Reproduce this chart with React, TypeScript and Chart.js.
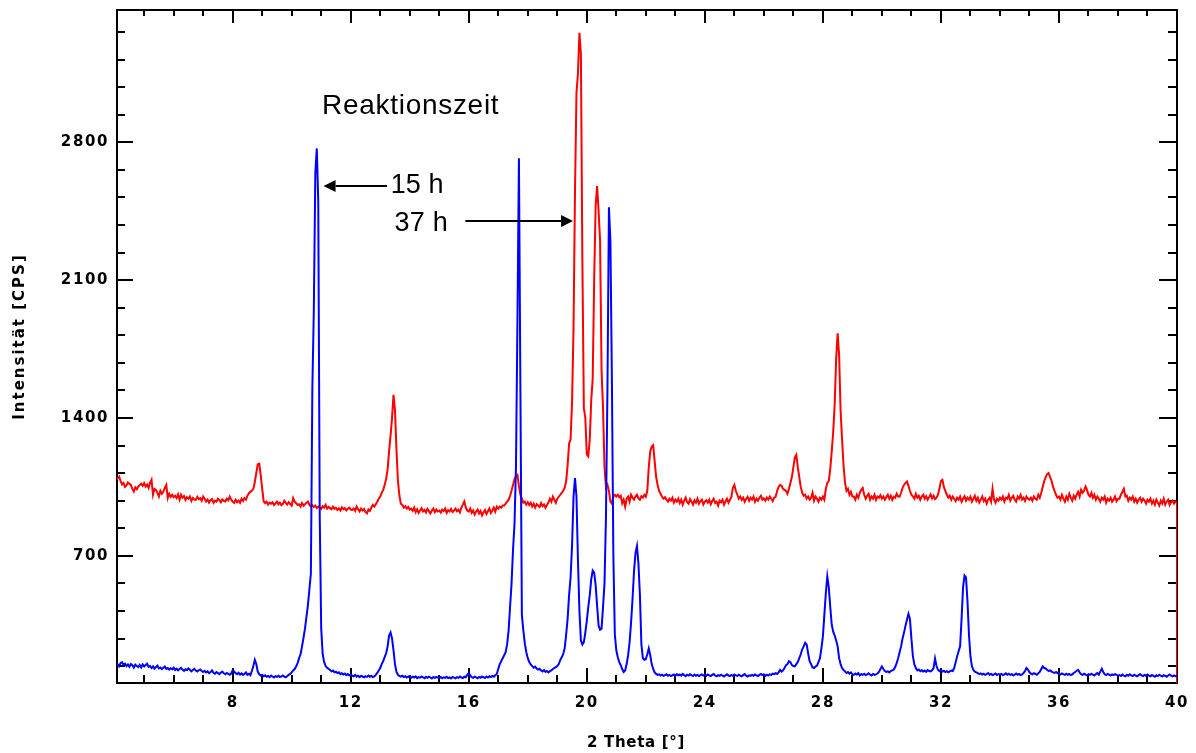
import React, { useEffect, useRef } from "react";
import { Chart, registerables } from "chart.js";

Chart.register(...registerables);

// 2θ sampling: 0.05° steps starting at 4.05°, each row below spans (n°, n+1°]
const THETA_START = 4.05;
const THETA_STEP = 0.05;

// Reaktionszeit 15 h — intensity [CPS]
const counts15h: number[] = [
  /* 4 */ 142, 150, 138, 155, 160, 146, 152, 140, 148, 136, 150, 144, 132, 147, 140, 135, 146, 133, 148, 138,
  /* 5 */ 145, 152, 136, 140, 130, 138, 127, 135, 142, 128, 133, 125, 131, 138, 126, 130, 122, 129, 124, 132,
  /* 6 */ 120, 127, 118, 125, 131, 122, 116, 124, 119, 128, 121, 113, 120, 126, 117, 112, 119, 123, 115, 110,
  /* 7 */ 116, 108, 113, 104, 110, 118, 106, 101, 109, 104, 99, 107, 112, 103, 98, 105, 100, 96, 102, 118,
  /* 8 */ 112, 104, 99, 106, 97, 103, 95, 100, 108, 96, 101, 94, 115, 140, 172, 150, 112, 98, 92, 95,
  /* 9 */ 88, 93, 86, 90, 84, 92, 87, 82, 89, 85, 91, 84, 88, 92, 86, 83, 90, 95, 100, 108,
  /* 10 */ 118, 125, 138, 155, 180, 200, 240, 283, 330, 390, 450, 530, 610, 1550, 1950, 2640, 2769, 2500, 900, 330,
  /* 11 */ 200, 160, 140, 131, 126, 120, 113, 117, 108, 111, 104, 108, 99, 104, 97, 102, 94, 99, 92, 97,
  /* 12 */ 92, 88, 95, 86, 91, 84, 90, 87, 83, 89, 85, 92, 86, 90, 84, 88, 95, 105, 118, 130,
  /* 13 */ 150, 165, 185, 205, 240, 295, 311, 280, 220, 150, 110, 96, 90, 86, 91, 84, 88, 82, 87, 83,
  /* 14 */ 80, 86, 82, 88, 79, 84, 81, 87, 83, 78, 85, 80, 86, 82, 77, 84, 80, 85, 81, 79,
  /* 15 */ 84, 78, 83, 80, 86, 79, 82, 77, 85, 81, 78, 84, 80, 87, 82, 79, 86, 83, 95, 105,
  /* 16 */ 92, 84, 80, 86, 82, 78, 85, 81, 87, 83, 80, 86, 82, 88, 84, 90, 86, 93, 100, 125,
  /* 17 */ 150, 165, 180, 195, 210, 250, 320, 440, 560, 730, 860, 1150, 1900, 2719, 1550, 400, 320, 255, 210, 180,
  /* 18 */ 160, 148, 140, 132, 137, 128, 122, 126, 118, 113, 120, 110, 115, 108, 114, 118, 125, 130, 135, 140,
  /* 19 */ 150, 170, 185, 200, 230, 300, 380, 500, 590, 750, 1000, 1095, 1000, 680, 420, 270, 250, 262, 310, 370,
  /* 20 */ 440, 500, 580, 625, 615, 550, 445, 345, 325, 330, 440, 560, 900, 1550, 2470, 2300, 1600, 700, 300, 220,
  /* 21 */ 185, 160, 145, 125, 110, 118, 150, 195, 260, 360, 480, 620, 715, 750, 660, 500, 250, 180, 172, 175,
  /* 22 */ 200, 230, 195, 150, 125, 108, 100, 95, 98, 92, 96, 90, 94, 98, 91, 95, 89, 93, 97, 90,
  /* 23 */ 99, 93, 97, 91, 100, 94, 89, 96, 92, 98, 93, 90, 97, 91, 95, 89, 94, 98, 92, 96,
  /* 24 */ 91, 97, 93, 89, 95, 100, 92, 88, 94, 90, 96, 91, 87, 93, 98, 92, 89, 95, 91, 97,
  /* 25 */ 93, 90, 96, 92, 88, 94, 99, 91, 87, 93, 90, 95, 91, 97, 93, 89, 95, 100, 94, 98,
  /* 26 */ 90, 96, 92, 98, 95, 102, 99, 104, 100, 108, 120, 112, 118, 130, 145, 150, 165, 160, 145, 140,
  /* 27 */ 138, 150, 160, 180, 200, 225, 240, 258, 250, 205, 165, 150, 133, 130, 138, 142, 160, 180, 230, 290,
  /* 28 */ 400, 510, 595, 540, 440, 350, 315, 295, 270, 240, 180, 150, 130, 120, 113, 105, 110, 102, 108, 98,
  /* 29 */ 95, 102, 97, 104, 92, 99, 95, 101, 94, 98, 103, 96, 92, 100, 95, 98, 102, 110, 125, 138,
  /* 30 */ 125, 115, 110, 113, 108, 115, 118, 121, 135, 155, 180, 210, 240, 280, 310, 345, 375, 405, 380, 280,
  /* 31 */ 190, 148, 130, 118, 122, 114, 119, 112, 117, 111, 120, 115, 113, 118, 130, 178, 140, 122, 115, 118,
  /* 32 */ 112, 116, 110, 114, 108, 113, 117, 115, 130, 160, 190, 215, 240, 380, 540, 600, 590, 470, 300, 190,
  /* 33 */ 140, 120, 112, 108, 104, 99, 103, 97, 101, 95, 99, 104, 96, 100, 94, 98, 102, 95, 99, 96,
  /* 34 */ 100, 94, 98, 103, 96, 101, 95, 99, 93, 97, 102, 96, 100, 94, 98, 105, 115, 130, 122, 108,
  /* 35 */ 102, 98, 104, 100, 96, 103, 110, 125, 138, 130, 128, 120, 115, 118, 112, 108, 105, 110, 104, 100,
  /* 36 */ 97, 103, 99, 95, 101, 96, 100, 94, 98, 105, 110, 116, 121, 108, 99, 95, 101, 97, 93, 99,
  /* 37 */ 95, 101, 96, 92, 99, 104, 96, 112, 126, 110, 98, 94, 100, 96, 92, 98, 94, 99, 95, 91,
  /* 38 */ 94, 90, 97, 92, 88, 95, 91, 98, 93, 89, 96, 92, 88, 94, 99, 93, 89, 95, 91, 97,
  /* 39 */ 92, 88, 95, 90, 86, 93, 89, 96, 91, 87, 94, 90, 86, 92, 97, 91, 88, 93, 89, 90,
];

// Reaktionszeit 37 h — intensity [CPS]
const counts37h: number[] = [
  /* 4 */ 1086, 1095, 1102, 1080, 1062, 1070, 1050, 1058, 1072, 1066, 1060, 1040, 1026, 1048, 1038, 1052, 1060, 1066, 1055, 1069,
  /* 5 */ 1052, 1062, 1045, 1070, 1086, 1010, 1040, 1035, 1020, 1001, 1030, 1015, 1026, 1045, 1060, 993, 1015, 1000, 1010, 998,
  /* 6 */ 1005, 993, 1012, 985, 1010, 995, 1003, 984, 998, 990, 1001, 978, 994, 986, 984, 1000, 988, 993, 979, 1001,
  /* 7 */ 990, 976, 985, 970, 982, 988, 969, 980, 975, 990, 984, 972, 986, 979, 976, 990, 982, 1001, 985, 975,
  /* 8 */ 969, 985, 972, 980, 969, 990, 978, 993, 985, 1005, 1018, 1025, 1030, 1040, 1075, 1120, 1165, 1168, 1110, 1040,
  /* 9 */ 976, 968, 975, 960, 970, 965, 972, 958, 966, 975, 962, 970, 957, 964, 980, 969, 960, 972, 963, 955,
  /* 10 */ 993, 975, 967, 958, 962, 950, 968, 955, 962, 970, 976, 960, 950, 957, 948, 955, 942, 950, 945, 938,
  /* 11 */ 952, 945, 959, 940, 948, 942, 936, 950, 939, 944, 933, 941, 930, 946, 937, 942, 931, 939, 945, 935,
  /* 12 */ 933, 940, 928, 950, 936, 925, 940, 930, 938, 922, 916, 935, 928, 945, 959, 950, 962, 975, 990, 1001,
  /* 13 */ 1020, 1035, 1060, 1090, 1140, 1230, 1310, 1400, 1517, 1440, 1240, 1080, 1005, 965, 958, 945, 952, 940, 948, 935,
  /* 14 */ 940, 928, 945, 922, 936, 918, 930, 942, 925, 933, 920, 938, 927, 915, 930, 940, 922, 935, 925, 930,
  /* 15 */ 920, 935, 928, 940, 918, 932, 925, 938, 922, 930, 940, 926, 934, 920, 945, 960, 976, 945, 930, 925,
  /* 16 */ 940, 918, 930, 910, 925, 935, 915, 928, 905, 920, 932, 912, 926, 940, 918, 930, 945, 925, 950, 940,
  /* 17 */ 950, 945, 955, 955, 965, 975, 985, 1005, 1030, 1060, 1090, 1105, 1111, 1055, 1010, 990, 970, 975, 960, 972,
  /* 18 */ 958, 970, 950, 965, 945, 962, 955, 948, 968, 952, 960, 944, 958, 970, 990, 975, 1001, 985, 969, 990,
  /* 19 */ 1000, 1010, 1020, 1030, 1045, 1080, 1160, 1270, 1290, 1480, 1850, 2550, 3050, 3150, 3356, 3250, 2200, 1450, 1400, 1215,
  /* 20 */ 1205, 1290, 1490, 1600, 2100, 2480, 2578, 2450, 2300, 1640, 1450, 1150, 1050, 1062, 1030, 975, 965, 1000, 1010, 1001,
  /* 21 */ 1010, 998, 1005, 967, 985, 950, 990, 1001, 975, 1010, 995, 985, 1001, 1010, 992, 985, 1003, 996, 1010, 1000,
  /* 22 */ 1030, 1150, 1230, 1255, 1262, 1180, 1100, 1060, 1030, 1015, 1000, 990, 998, 985, 975, 990, 980, 995, 970, 985,
  /* 23 */ 975, 990, 968, 985, 960, 980, 995, 972, 965, 988, 975, 960, 982, 970, 990, 965, 978, 985, 960, 975,
  /* 24 */ 982, 970, 985, 962, 978, 990, 968, 975, 955, 980, 972, 985, 960, 976, 990, 970, 985, 1000, 1045, 1060,
  /* 25 */ 1030, 1010, 990, 1001, 984, 995, 975, 990, 1000, 980, 995, 985, 1001, 975, 990, 980, 995, 1005, 985, 992,
  /* 26 */ 980, 995, 985, 1001, 990, 978, 995, 1000, 1030, 1050, 1060, 1055, 1040, 1035, 1030, 1015, 1040, 1070, 1100, 1150,
  /* 27 */ 1200, 1213, 1150, 1100, 1050, 1020, 1005, 1010, 990, 1001, 985, 995, 1020, 980, 1001, 990, 975, 995, 985, 1001,
  /* 28 */ 985, 1040, 1070, 1080, 1140, 1230, 1330, 1470, 1700, 1830, 1720, 1440, 1290, 1160, 1070, 1030, 1040, 1010, 1025, 1001,
  /* 29 */ 1001, 985, 1010, 995, 1020, 1035, 1044, 1010, 990, 1005, 1015, 985, 1001, 990, 1010, 984, 1001, 995, 1008, 990,
  /* 30 */ 1001, 985, 998, 1010, 990, 1005, 984, 1000, 995, 1015, 1001, 1000, 1020, 1045, 1060, 1070, 1077, 1055, 1030, 1010,
  /* 31 */ 1001, 990, 1015, 995, 1005, 984, 1001, 1010, 990, 1003, 985, 998, 1012, 992, 1005, 988, 995, 1010, 1040, 1080,
  /* 32 */ 1086, 1050, 1030, 1010, 995, 1005, 984, 1001, 990, 978, 995, 985, 1001, 975, 990, 1003, 980, 995, 985, 1000,
  /* 33 */ 975, 990, 1005, 980, 995, 970, 985, 1001, 978, 990, 965, 985, 995, 975, 1040, 985, 970, 990, 980, 995,
  /* 34 */ 985, 1001, 975, 995, 990, 1010, 980, 995, 1005, 985, 975, 1001, 990, 1010, 985, 995, 978, 1001, 990, 985,
  /* 35 */ 995, 980, 1001, 990, 985, 1010, 995, 1020, 1050, 1080, 1100, 1115, 1120, 1100, 1080, 1050, 1030, 1010, 995, 1001,
  /* 36 */ 985, 1010, 990, 975, 1001, 985, 1015, 995, 980, 1005, 990, 1010, 1025, 1001, 1035, 1020, 1030, 1052, 1035, 1010,
  /* 37 */ 1001, 1020, 995, 1010, 985, 1001, 990, 975, 995, 985, 1001, 970, 990, 980, 995, 975, 985, 1001, 978, 990,
  /* 38 */ 990, 1010, 1025, 1040, 1001, 1005, 980, 995, 985, 1001, 975, 990, 970, 985, 995, 975, 990, 980, 965, 985,
  /* 39 */ 975, 990, 965, 980, 960, 985, 970, 955, 980, 965, 990, 960, 975, 985, 958, 972, 980, 965, 975, 970,
];
// the 37 h scan closes with a reading of zero at 40°
const counts37hEnd = 0;

// labelled (major) ticks
const xLabelValues = [8, 12, 16, 20, 24, 28, 32, 36, 40];
const yLabelValues = [700, 1400, 2100, 2800];
// every tick mark on the frame: 1° steps on 2θ, 140 CPS steps on intensity
const xTickValues = Array.from({ length: 36 }, (_, i) => 5 + i);
const yTickValues = Array.from({ length: 24 }, (_, i) => 140 * (i + 1));

const X_MIN = 4.08;
const X_MAX = 40;
const Y_MIN = 54;
const Y_MAX = 3472;

// annotation in data coordinates (2θ, CPS)
const notes = [
  { text: "Reaktionszeit", x: 11.03, y: 2944, size: 28, spacing: 0.7 },
  { text: "15 h", x: 13.36, y: 2541, size: 27, spacing: 0 },
  { text: "37 h", x: 13.48, y: 2351, size: 27, spacing: 0.3 },
];
const arrows = [
  { fromX: 13.23, toX: 11.08, y: 2578 },
  { fromX: 15.885, toX: 19.535, y: 2402 },
];

const AXIS_FONT = '"DejaVu Sans"';
const NOTE_FONT = '"Liberation Sans", Arial, sans-serif';
const INK = "#000000";

const toPoints = (counts: number[]) =>
  counts.map((c, i) => ({ x: +(THETA_START + i * THETA_STEP).toFixed(2), y: c }));

// widen axis lettering while the scales paint, then reset for the data
const axisLetterSpacing = {
  id: "axisLetterSpacing",
  beforeDraw(chart: any) {
    chart.ctx.letterSpacing = "1.6px";
  },
  beforeDatasetsDraw(chart: any) {
    chart.ctx.letterSpacing = "0px";
  },
};

// closed frame with inward tick marks on all four sides
const frameTicks = {
  id: "frameTicks",
  beforeDatasetsDraw(chart: any) {
    const { ctx, chartArea: a, scales } = chart;
    ctx.save();
    ctx.strokeStyle = INK;
    ctx.lineWidth = 2;
    ctx.strokeRect(a.left, a.top, a.right - a.left, a.bottom - a.top);
    ctx.beginPath();
    for (const v of xTickValues) {
      const px = Math.round(scales.x.getPixelForValue(v));
      const major = xLabelValues.includes(v);
      ctx.moveTo(px, a.bottom);
      ctx.lineTo(px, a.bottom - (major ? 15 : 8));
      ctx.moveTo(px, a.top);
      ctx.lineTo(px, a.top + (major ? 13 : 6));
    }
    for (const v of yTickValues) {
      const py = Math.round(scales.y.getPixelForValue(v));
      const major = yLabelValues.includes(v);
      ctx.moveTo(a.left, py);
      ctx.lineTo(a.left + (major ? 16 : 8), py);
      ctx.moveTo(a.right, py);
      ctx.lineTo(a.right - (major ? 18 : 9), py);
    }
    ctx.stroke();
    ctx.restore();
  },
};

// axis titles, Reaktionszeit labels and arrows
const textLayer = {
  id: "textLayer",
  afterDraw(chart: any) {
    const { ctx, chartArea: a, scales } = chart;
    ctx.save();
    ctx.fillStyle = INK;
    ctx.strokeStyle = INK;

    ctx.save();
    ctx.letterSpacing = "2px";
    ctx.font = `bold 15px ${AXIS_FONT}`;
    ctx.textAlign = "center";
    ctx.textBaseline = "middle";
    ctx.translate(a.left - 97, (a.top + a.bottom) / 2 - 10);
    ctx.rotate(-Math.PI / 2);
    ctx.fillText("Intensität [CPS]", 0, 0);
    ctx.restore();

    ctx.save();
    ctx.letterSpacing = "0.7px";
    ctx.font = `bold 15px ${AXIS_FONT}`;
    ctx.textAlign = "center";
    ctx.textBaseline = "alphabetic";
    ctx.fillText("2 Theta [°]", (a.left + a.right) / 2 - 11, a.bottom + 64);
    ctx.restore();

    ctx.textAlign = "left";
    ctx.textBaseline = "alphabetic";
    for (const n of notes) {
      ctx.letterSpacing = `${n.spacing}px`;
      ctx.font = `${n.size}px ${NOTE_FONT}`;
      ctx.fillText(n.text, scales.x.getPixelForValue(n.x), scales.y.getPixelForValue(n.y));
    }
    ctx.letterSpacing = "0px";

    ctx.lineWidth = 2;
    for (const ar of arrows) {
      const x0 = scales.x.getPixelForValue(ar.fromX);
      const x1 = scales.x.getPixelForValue(ar.toX);
      const y = Math.round(scales.y.getPixelForValue(ar.y));
      const dir = x1 > x0 ? 1 : -1;
      const head = 12;
      ctx.beginPath();
      ctx.moveTo(x0, y);
      ctx.lineTo(x1 - dir * head, y);
      ctx.stroke();
      ctx.beginPath();
      ctx.moveTo(x1, y);
      ctx.lineTo(x1 - dir * head, y - 6);
      ctx.lineTo(x1 - dir * head, y + 6);
      ctx.closePath();
      ctx.fill();
    }
    ctx.restore();
  },
};

// keep the plot frame fixed: no extra room reserved for edge tick labels
const noEdgePadding = (s: any) => {
  s.paddingTop = 0;
  s.paddingBottom = 0;
  s.paddingLeft = 0;
  s.paddingRight = 0;
};

export default function App() {
  const canvasRef = useRef<HTMLCanvasElement | null>(null);

  useEffect(() => {
    const canvas = canvasRef.current;
    if (!canvas) return;

    const data15h = toPoints(counts15h);
    const data37h = [...toPoints(counts37h), { x: 40, y: counts37hEnd }];

    const tickFont = { family: AXIS_FONT, size: 15, weight: "bold" as const };

    const chart = new Chart(canvas, {
      type: "line",
      data: {
        datasets: [
          {
            label: "15 h",
            data: data15h,
            borderColor: "#0000ff",
            borderWidth: 2,
            pointRadius: 0,
            fill: false,
            tension: 0,
          },
          {
            label: "37 h",
            data: data37h,
            borderColor: "#ff0000",
            borderWidth: 2,
            pointRadius: 0,
            fill: false,
            tension: 0,
          },
        ],
      },
      options: {
        animation: false,
        responsive: false,
        devicePixelRatio: 1,
        events: [],
        layout: { padding: { top: 10, right: 19, bottom: 0, left: 0 } },
        plugins: {
          legend: { display: false },
          tooltip: { enabled: false },
        },
        scales: {
          x: {
            type: "linear",
            min: X_MIN,
            max: X_MAX,
            afterBuildTicks: (s: any) => {
              s.ticks = xTickValues.map((value) => ({ value }));
            },
            afterFit: (s: any) => {
              s.height = 70;
              noEdgePadding(s);
            },
            grid: { display: false, drawTicks: false },
            border: { display: false },
            ticks: {
              autoSkip: false,
              maxRotation: 0,
              minRotation: 0,
              padding: 11,
              color: INK,
              font: tickFont,
              callback: (v: any) => (xLabelValues.includes(Number(v)) ? String(v) : ""),
            },
          },
          y: {
            type: "linear",
            min: Y_MIN,
            max: Y_MAX,
            afterBuildTicks: (s: any) => {
              s.ticks = yTickValues.map((value) => ({ value }));
            },
            afterFit: (s: any) => {
              s.width = 117;
              noEdgePadding(s);
            },
            grid: { display: false, drawTicks: false },
            border: { display: false },
            ticks: {
              autoSkip: false,
              padding: 8,
              color: INK,
              font: tickFont,
              callback: (v: any) => (yLabelValues.includes(Number(v)) ? String(v) : ""),
            },
          },
        },
      },
      plugins: [axisLetterSpacing, frameTicks, textLayer],
    });

    return () => chart.destroy();
  }, []);

  return (
    <div
      style={{
        position: "absolute",
        left: 0,
        top: 0,
        width: 1196,
        height: 753,
        background: "#ffffff",
      }}
    >
      <canvas ref={canvasRef} width={1196} height={753} style={{ display: "block" }} />
    </div>
  );
}
